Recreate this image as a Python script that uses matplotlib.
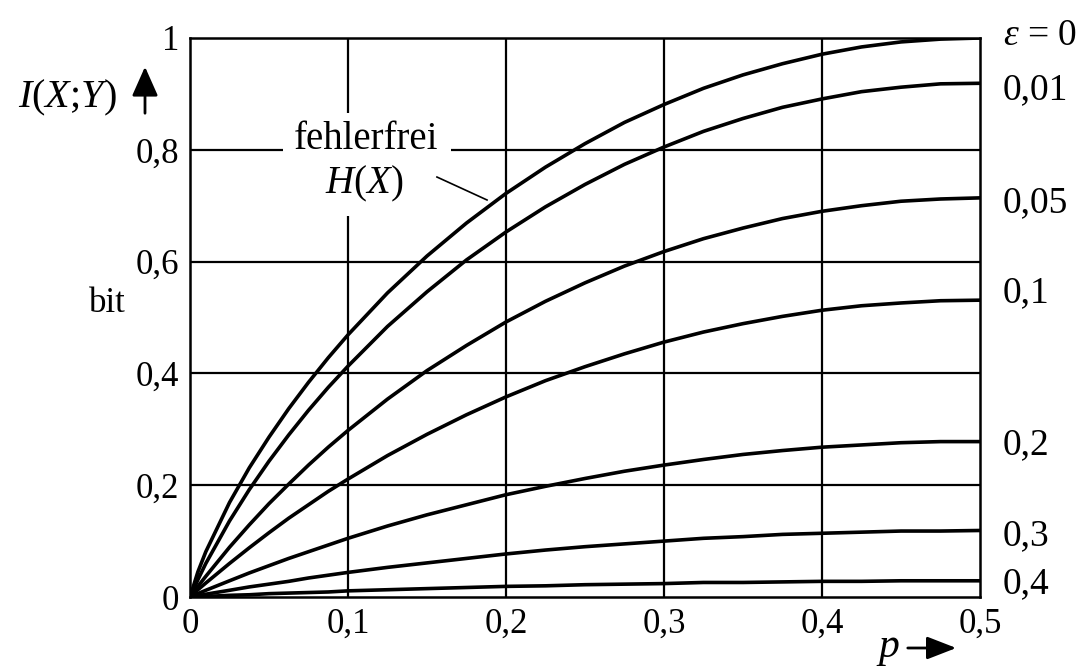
import matplotlib
matplotlib.use('Agg')
import matplotlib.pyplot as plt
from matplotlib.patches import Rectangle, FancyArrowPatch

plt.rcParams['font.family'] = ['Liberation Serif', 'DejaVu Serif']
plt.rcParams['mathtext.fontset'] = 'custom'
plt.rcParams['mathtext.rm'] = 'Liberation Serif'
plt.rcParams['mathtext.it'] = 'Liberation Serif:italic'

# p values where the curves were read
p = [0, 0.005, 0.01, 0.025, 0.0375, 0.05, 0.0625, 0.075, 0.0875, 0.1, 0.125,
     0.15, 0.175, 0.2, 0.225, 0.25, 0.275, 0.3, 0.325, 0.35, 0.375, 0.4,
     0.425, 0.45, 0.475, 0.5]

# I(X;Y) in bit for each error probability epsilon
eps_labels = ['$\\varepsilon$ = 0', '0,01', '0,05', '0,1', '0,2', '0,3', '0,4']
I_e0 = [0, 0.045, 0.081, 0.169, 0.231, 0.286, 0.337, 0.384, 0.428, 0.469, 0.544,
        0.610, 0.669, 0.722, 0.769, 0.811, 0.849, 0.881, 0.910, 0.934, 0.954, 0.971,
        0.984, 0.993, 0.998, 1.0]
I_e001 = [0, 0.031, 0.060, 0.136, 0.192, 0.243, 0.290, 0.334, 0.375, 0.413, 0.484,
          0.546, 0.603, 0.653, 0.698, 0.738, 0.774, 0.805, 0.833, 0.856, 0.876, 0.891,
          0.904, 0.912, 0.918, 0.919]
I_e005 = [0, 0.019, 0.037, 0.089, 0.129, 0.167, 0.202, 0.236, 0.268, 0.298, 0.354,
          0.405, 0.450, 0.492, 0.529, 0.562, 0.592, 0.618, 0.641, 0.660, 0.677, 0.690,
          0.700, 0.708, 0.712, 0.714]
I_e01 = [0, 0.013, 0.025, 0.060, 0.088, 0.115, 0.141, 0.165, 0.189, 0.211, 0.253,
         0.291, 0.326, 0.358, 0.387, 0.412, 0.435, 0.456, 0.474, 0.489, 0.502, 0.513,
         0.521, 0.526, 0.530, 0.531]
I_e02 = [0, 0.006, 0.012, 0.029, 0.043, 0.056, 0.069, 0.081, 0.093, 0.105, 0.127,
         0.147, 0.165, 0.183, 0.198, 0.212, 0.225, 0.236, 0.246, 0.255, 0.262, 0.268,
         0.272, 0.276, 0.278, 0.278]
I_e03 = [0, 0.002, 0.005, 0.012, 0.018, 0.023, 0.028, 0.034, 0.039, 0.044, 0.053,
         0.061, 0.069, 0.077, 0.084, 0.090, 0.095, 0.100, 0.105, 0.108, 0.112, 0.114,
         0.116, 0.118, 0.118, 0.119]
I_e04 = [0, 0.001, 0.001, 0.003, 0.004, 0.006, 0.007, 0.008, 0.009, 0.011, 0.013,
         0.015, 0.017, 0.019, 0.020, 0.022, 0.023, 0.024, 0.026, 0.026, 0.027, 0.028,
         0.028, 0.029, 0.029, 0.029]
curves = [I_e0, I_e001, I_e005, I_e01, I_e02, I_e03, I_e04]

x_ticks = [0, 0.1, 0.2, 0.3, 0.4, 0.5]
x_ticklabels = ['0', '0,1', '0,2', '0,3', '0,4', '0,5']
y_ticks = [0, 0.2, 0.4, 0.6, 0.8, 1.0]
y_ticklabels = ['0', '0,2', '0,4', '0,6', '0,8', '1']

W, H = 1092, 670
fig = plt.figure(figsize=(W / 100, H / 100), dpi=100)
ax = fig.add_axes([190 / W, 1 - 597 / H, 790 / W, 559 / H])


def fx(px):
    return px / W


def fy(py):
    return 1 - py / H


for xv in x_ticks[1:-1]:
    ax.axvline(xv, color='black', lw=1.6, zorder=1)
for yv in y_ticks[1:-1]:
    ax.axhline(yv, color='black', lw=1.6, zorder=1)

for vals in curves:
    ax.plot(p, vals, color='black', lw=2.6, zorder=3, solid_joinstyle='round')

ax.set_xlim(0, 0.5)
ax.set_ylim(0, 1)
for s in ax.spines.values():
    s.set_linewidth(1.8)
ax.set_xticks(x_ticks)
ax.set_xticklabels(x_ticklabels)
ax.set_yticks(y_ticks)
ax.set_yticklabels(y_ticklabels)
ax.tick_params(length=0, labelsize=25, pad=8)

# curve labels on the right (baselines in pixels)
label_base = [45, 99, 212, 302, 454, 545, 593]
for txt, yy in zip(eps_labels, label_base):
    fig.text(fx(1003), fy(yy), txt, fontsize=27, va='baseline', ha='left')

# white box behind the annotation
ax.add_patch(Rectangle((0.0589, 0.6816), 0.1063, 0.1842, facecolor='white',
                       edgecolor='none', zorder=2))
ax.text(0.1117, 0.8014, 'fehlerfrei', fontsize=28, ha='center', va='baseline', zorder=5)
ax.text(0.1105, 0.7227, '$H$($X$)', fontsize=28, ha='center', va='baseline', zorder=5)
ax.plot([0.1563, 0.1880], [0.7513, 0.7102], color='black', lw=1.2, zorder=4)

# axis names
fig.text(fx(67), fy(107), '$I$($X$;$Y$)', fontsize=29, ha='center', va='baseline')
fig.text(fx(107), fy(312), 'bit', fontsize=25, ha='center', va='baseline')
fig.text(fx(888), fy(657), '$p$', fontsize=30, ha='center', va='baseline')
fig.add_artist(FancyArrowPatch(
    (fx(145), fy(116)), (fx(145), fy(64)), transform=fig.transFigure,
    arrowstyle='-|>,head_length=9,head_width=4', mutation_scale=2, lw=2.0, color='black'))
fig.add_artist(FancyArrowPatch(
    (fx(905), fy(648)), (fx(959), fy(648)), transform=fig.transFigure,
    arrowstyle='-|>,head_length=9,head_width=3.5', mutation_scale=2, lw=2.0, color='black'))

fig.savefig('out.png', dpi=100)
